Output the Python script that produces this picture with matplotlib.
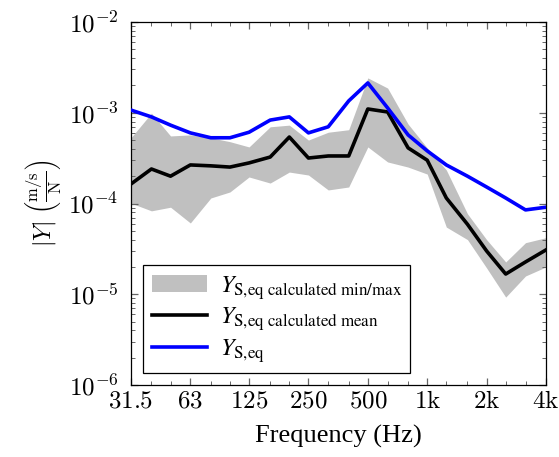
import numpy as np
import matplotlib
matplotlib.use("Agg")
import matplotlib.pyplot as plt
from matplotlib.patches import Patch
from matplotlib.lines import Line2D
from matplotlib.font_manager import FontProperties
from matplotlib.ticker import NullFormatter, LogLocator

plt.rcParams['font.family'] = 'serif'
plt.rcParams['font.serif'] = ['Liberation Serif', 'DejaVu Serif']
plt.rcParams['mathtext.fontset'] = 'cm'

# third-octave band centres (Hz)
freqs = [31.5, 40, 50, 63, 80, 100, 125, 160, 200, 250, 315, 400, 500,
         630, 800, 1000, 1250, 1600, 2000, 2500, 3150, 4000]

# Y_S,eq measured
y_eq = [1.07e-3, 9.0e-4, 7.3e-4, 6.0e-4, 5.3e-4, 5.3e-4, 6.1e-4, 8.3e-4,
        9.0e-4, 6.0e-4, 7.0e-4, 1.35e-3, 2.13e-3, 1.13e-3, 5.7e-4, 3.8e-4,
        2.66e-4, 2.0e-4, 1.52e-4, 1.15e-4, 8.5e-5, 9.1e-5]

# calculated mean
y_mean = [1.64e-4, 2.4e-4, 2.0e-4, 2.66e-4, 2.6e-4, 2.52e-4, 2.8e-4, 3.25e-4,
          5.4e-4, 3.17e-4, 3.34e-4, 3.34e-4, 1.1e-3, 1.02e-3, 4.1e-4, 3.0e-4,
          1.15e-4, 5.9e-5, 3.0e-5, 1.67e-5, 2.27e-5, 3.08e-5]

# calculated min / max
y_max = [5.3e-4, 9.9e-4, 5.55e-4, 5.7e-4, 5.3e-4, 4.8e-4, 4.2e-4, 7.0e-4,
         7.3e-4, 5.0e-4, 6.1e-4, 6.5e-4, 2.42e-3, 1.87e-3, 7.5e-4, 4.1e-4,
         2.34e-4, 7.7e-5, 4.0e-5, 2.27e-5, 3.7e-5, 4.2e-5]
y_min = [1.01e-4, 8.3e-5, 9.1e-5, 6.1e-5, 1.15e-4, 1.34e-4, 1.96e-4, 1.68e-4,
         2.22e-4, 2.06e-4, 1.41e-4, 1.52e-4, 4.2e-4, 2.87e-4, 2.52e-4, 2.11e-4,
         5.5e-5, 4.0e-5, 1.95e-5, 9.3e-6, 1.59e-5, 2.0e-5]

xtick_vals = [31.5, 63, 125, 250, 500, 1000, 2000, 4000]
xtick_labels = [r'$31.5$', r'$63$', r'$125$', r'$250$', r'$500$',
                r'$1\mathrm{k}$', r'$2\mathrm{k}$', r'$4\mathrm{k}$']
ytick_vals = [1e-6, 1e-5, 1e-4, 1e-3, 1e-2]
ytick_labels = [r'$10^{-6}$', r'$10^{-5}$', r'$10^{-4}$', r'$10^{-3}$', r'$10^{-2}$']

fig = plt.figure(figsize=(5.59, 4.57), dpi=100)
ax = fig.add_axes([0.2343, 0.1575, 0.7424, 0.7944])

ax.fill_between(freqs, y_min, y_max, color='#c0c0c0', lw=0, zorder=1)
ax.plot(freqs, y_mean, color='black', lw=2.6, zorder=3)
ax.plot(freqs, y_eq, color='#0000ff', lw=2.6, zorder=4)

ax.set_xscale('log')
ax.set_yscale('log')
ax.set_xlim(31.5, 4000)
ax.set_ylim(1e-6, 1e-2)

ax.set_xticks(xtick_vals)
ax.set_xticklabels(xtick_labels)
ax.set_xticks([f for f in freqs if f not in xtick_vals], minor=True)
ax.xaxis.set_minor_formatter(NullFormatter())
ax.set_yticks(ytick_vals)
ax.set_yticklabels(ytick_labels)
ax.yaxis.set_minor_locator(LogLocator(base=10, subs=np.arange(2, 10)))
ax.yaxis.set_minor_formatter(NullFormatter())

ax.tick_params(which='both', direction='in', top=True, right=True,
               color='#666666', labelsize=18)
ax.tick_params(which='major', length=5, width=0.9)
ax.tick_params(which='minor', length=3, width=0.7)
ax.tick_params(axis='y', pad=9)
ax.tick_params(axis='x', pad=4)
for s in ax.spines.values():
    s.set_linewidth(0.9)

ax.set_xlabel('Frequency (Hz)', fontsize=19, labelpad=9)
ax.set_ylabel(r'$|Y|\ \left(\frac{\mathrm{m/s}}{\mathrm{N}}\right)$', fontsize=17, labelpad=3)

handles = [Patch(facecolor='#c0c0c0', edgecolor='none'),
           Line2D([], [], color='black', lw=2.6),
           Line2D([], [], color='#0000ff', lw=2.6)]
labels = [r'$Y_{\mathrm{S{,}eq\ calculated\ min/max}}$',
          r'$Y_{\mathrm{S{,}eq\ calculated\ mean}}$',
          r'$Y_{\mathrm{S{,}eq}}$']
leg = ax.legend(handles, labels, loc='lower left', bbox_to_anchor=(0.029, 0.033),
                prop=FontProperties(family='Liberation Serif', size=17.5, math_fontfamily='stix'),
                fancybox=False, framealpha=1, edgecolor='black',
                borderaxespad=0, handlelength=2.3, labelspacing=0.15,
                borderpad=0.35, handletextpad=0.5)
leg.get_frame().set_linewidth(0.9)

fig.savefig('out.png', dpi=100)
